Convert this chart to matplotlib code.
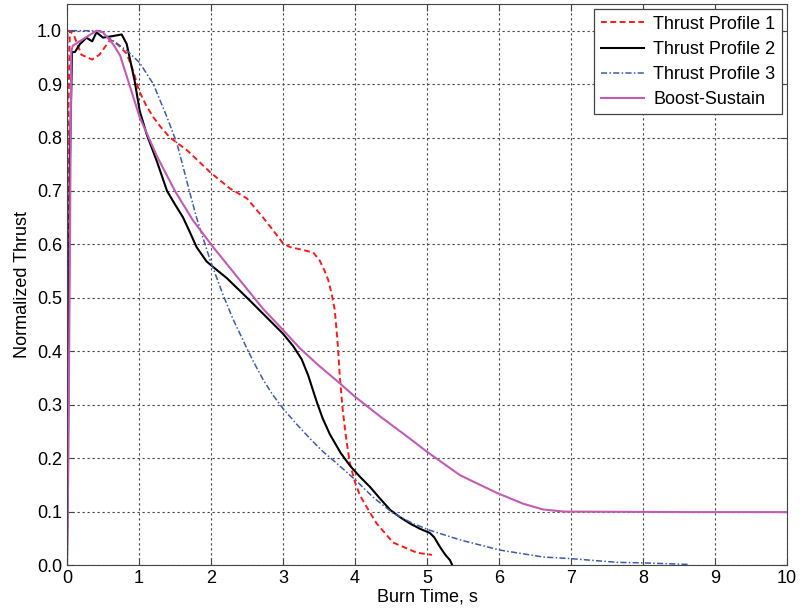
import matplotlib
matplotlib.use('Agg')
import matplotlib.pyplot as plt

plt.rcParams['font.family'] = ['Liberation Sans', 'DejaVu Sans']

# Thrust Profile 1 (red dashed)
t1 = [0.0, 0.02, 0.04, 0.1, 0.2, 0.35, 0.45, 0.6, 0.7, 0.83, 0.92, 1.0, 1.1, 1.2, 1.3, 1.43,
      1.67, 1.99, 2.26, 2.5, 2.72, 2.9, 3.0, 3.1, 3.2, 3.42, 3.51, 3.58, 3.63, 3.68, 3.72, 3.76,
      3.79, 3.83, 3.88, 3.93, 4.0, 4.07, 4.2, 4.3, 4.53, 4.86, 5.07]
v1 = [0.0, 0.85, 1.0, 0.99, 0.955, 0.946, 0.955, 0.983, 0.975, 0.957, 0.925, 0.888, 0.86,
      0.838, 0.82, 0.8, 0.776, 0.735, 0.705, 0.686, 0.651, 0.62, 0.602, 0.595, 0.592, 0.585,
      0.57, 0.55, 0.533, 0.505, 0.477, 0.415, 0.352, 0.29, 0.235, 0.19, 0.155, 0.13, 0.1, 0.078,
      0.042, 0.023, 0.019]

# Thrust Profile 2 (black solid)
t2 = [0.0, 0.01, 0.04, 0.07, 0.11, 0.18, 0.22, 0.27, 0.35, 0.41, 0.5, 0.64, 0.76, 0.83, 0.94,
      1.01, 1.11, 1.25, 1.39, 1.5, 1.61, 1.7, 1.8, 1.94, 2.1, 2.22, 2.54, 2.8, 3.0, 3.14, 3.26,
      3.35, 3.47, 3.55, 3.65, 3.8, 3.93, 4.07, 4.21, 4.35, 4.49, 4.62, 4.76, 4.9, 5.04, 5.1,
      5.18, 5.25, 5.32, 5.35]
v2 = [0.0, 0.16, 0.75, 0.96, 0.96, 0.975, 0.98, 0.987, 0.98, 0.997, 0.987, 0.99, 0.993, 0.975,
      0.906, 0.85, 0.805, 0.755, 0.70, 0.675, 0.651, 0.625, 0.595, 0.568, 0.55, 0.537, 0.495,
      0.46, 0.433, 0.41, 0.385, 0.355, 0.305, 0.275, 0.245, 0.21, 0.186, 0.165, 0.146, 0.124,
      0.103, 0.09, 0.078, 0.068, 0.06, 0.052, 0.034, 0.02, 0.009, 0.0]

# Thrust Profile 3 (blue dash-dot)
t3 = [0.0, 0.01, 0.2, 0.46, 0.6, 0.83, 1.01, 1.2, 1.39, 1.53, 1.71, 1.8, 1.99, 2.17, 2.3,
      2.5, 2.6, 2.72, 2.85, 3.0, 3.2, 3.38, 3.55, 3.75, 4.0, 4.25, 4.53, 4.8, 5.04, 5.46, 6.01,
      6.61, 6.99, 7.64, 8.0, 8.65]
v3 = [0.0, 1.0, 1.0, 1.0, 0.985, 0.963, 0.94, 0.9, 0.838, 0.788, 0.695, 0.65, 0.57, 0.505,
      0.462, 0.405, 0.378, 0.348, 0.32, 0.293, 0.262, 0.236, 0.213, 0.19, 0.16, 0.127, 0.097,
      0.078, 0.065, 0.047, 0.028, 0.015, 0.012, 0.005, 0.004, 0.001]

# Boost-Sustain (magenta solid)
t4 = [0.0, 0.02, 0.06, 0.08, 0.41, 0.5, 0.64, 0.74, 1.01, 1.25, 1.5, 1.75, 2.03, 2.36, 2.72,
      3.0, 3.24, 3.5, 3.79, 4.0, 4.35, 4.7, 5.0, 5.46, 5.97, 6.33, 6.61, 6.9, 8.65, 10.0]
v4 = [0.0, 0.2, 0.96, 0.972, 1.0, 0.997, 0.975, 0.953, 0.838, 0.765, 0.70, 0.645, 0.595,
      0.54, 0.48, 0.44, 0.405, 0.373, 0.34, 0.315, 0.278, 0.243, 0.212, 0.168, 0.135, 0.115,
      0.104, 0.1, 0.099, 0.099]

labels = ['Thrust Profile 1', 'Thrust Profile 2', 'Thrust Profile 3', 'Boost-Sustain']

fig = plt.figure(figsize=(8.03, 6.13), dpi=100)
ax = fig.add_axes([0.0834, 0.0783, 0.8966, 0.9152])

ax.plot(t1, v1, color='#ff1a1a', linestyle=(0, (3, 1.8)), linewidth=1.4, label=labels[0])
ax.plot(t2, v2, color='black', linestyle='-', linewidth=1.5, label=labels[1])
ax.plot(t3, v3, color='#3a5bb0', linestyle=(0, (4, 1.5, 1, 1.5)), linewidth=1.1, label=labels[2])
ax.plot(t4, v4, color='#c25bb5', linestyle='-', linewidth=1.5, label=labels[3])

ax.set_xlim(0, 10)
ax.set_ylim(0, 1.05)
ax.set_xticks(range(0, 11))
ax.set_yticks([i / 10 for i in range(11)])
ax.set_yticklabels(['%.1f' % (i / 10) for i in range(11)])
ax.tick_params(direction='in', top=True, right=True, labelsize=13, length=5, color='#444444')
ax.grid(True, color='#444444', linestyle=(0, (2, 2.5)), linewidth=0.8)
for s in ax.spines.values():
    s.set_color('#444444')

ax.set_xlabel('Burn Time, s', fontsize=13, labelpad=1)
ax.set_ylabel('Normalized Thrust', fontsize=13, labelpad=4)

leg = ax.legend(loc='upper right', fontsize=13, fancybox=False, framealpha=1,
                edgecolor='#444444', handlelength=2.4, borderpad=0.35, labelspacing=0.45,
                handletextpad=0.5, borderaxespad=0.3)
leg.get_frame().set_linewidth(0.9)

fig.savefig('out.png', dpi=100)
